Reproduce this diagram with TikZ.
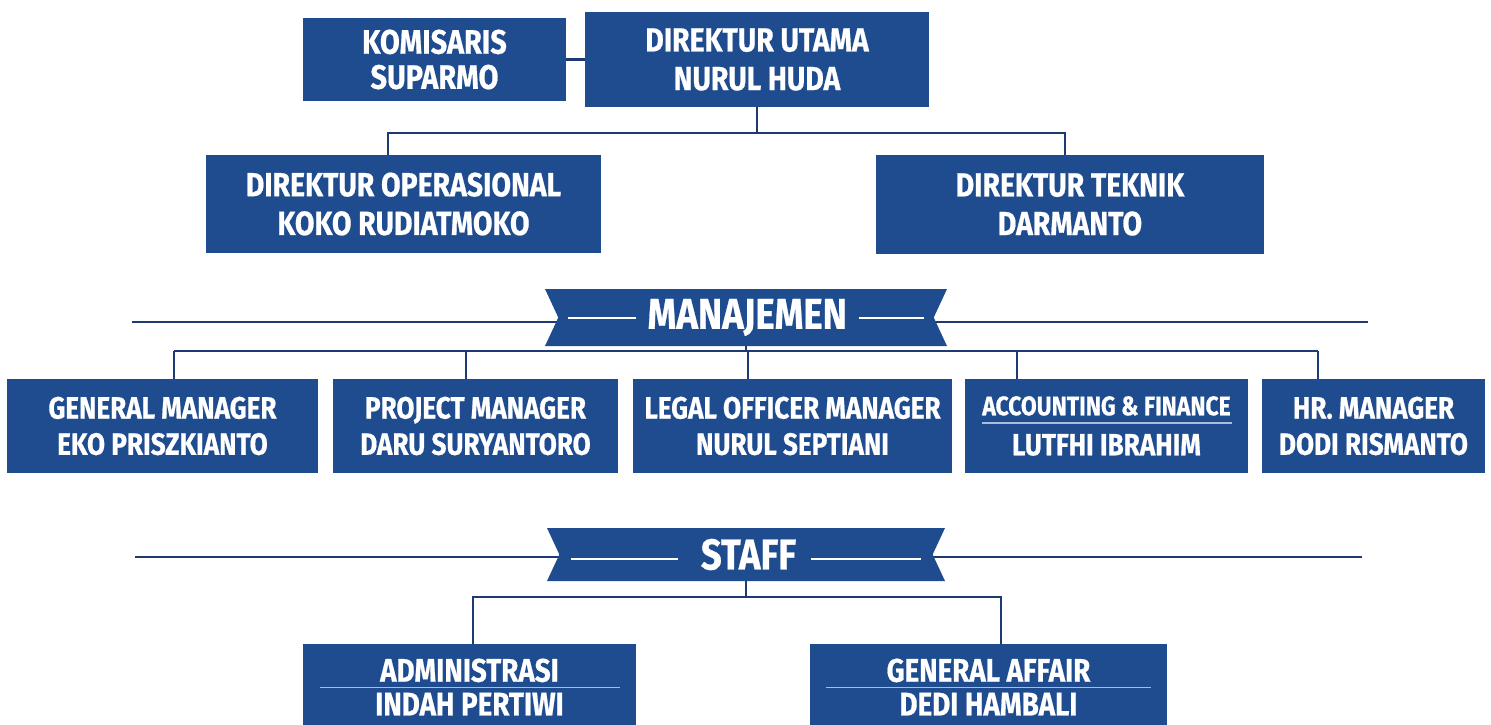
\documentclass[tikz,border=0pt]{standalone}
\usepackage{fontspec}
\newfontfamily\orgfont[FakeStretch=0.85, BoldFeatures={FakeBold=0.6}]{Fira Sans}
\usetikzlibrary{shapes.symbols}

\definecolor{boxblue}{HTML}{1E4C8F}
\definecolor{linenavy}{HTML}{1D3A73}
\definecolor{sepblue}{HTML}{A9BCDB}

% thin light rule between title and name
\newcommand{\sepline}[3]{\\[#2]{\color{sepblue}\rule{#1}{0.8pt}}\\[#3]}

\begin{document}
\begin{tikzpicture}[
        scale=1,
        box/.style={fill=boxblue, text=white, align=center, inner sep=0pt},
        head/.style={box, font=\orgfont\bfseries\fontsize{19}{22}\selectfont},
        mgr/.style={box, minimum height=1.88cm, font=\orgfont\bfseries\fontsize{17.5}{20.6}\selectfont},
        staffbox/.style={box, minimum height=1.72cm, font=\orgfont\bfseries\fontsize{18.6}{21.5}\selectfont},
        ribbon/.style={signal, signal from=west and east, signal to=nowhere, signal pointer angle=130,
          fill=boxblue, text=white, inner sep=0pt, font=\orgfont\bfseries\fontsize{24.5}{27}\selectfont},
        link/.style={draw=linenavy, line width=1.5pt}]

      \path[use as bounding box, clip] (0,0) rectangle (29.82,14.48);

      % directors
      \node[head, minimum width=5.26cm, minimum height=1.66cm, font=\orgfont\bfseries\fontsize{19.3}{20}\selectfont] (kom) at (8.69,13.29) {KOMISARIS\\SUPARMO};
      \node[head, minimum width=6.88cm, minimum height=1.90cm] (dir) at (15.14,13.29) {DIREKTUR UTAMA\\NURUL HUDA};
      \node[head, minimum width=7.90cm, minimum height=1.96cm] (ops) at (8.07,10.40) {DIREKTUR OPERASIONAL\\KOKO RUDIATMOKO};
      \node[head, minimum width=7.76cm, minimum height=1.98cm] (tek) at (21.40,10.39) {DIREKTUR TEKNIK\\DARMANTO};

      % rules behind the banners
      \coordinate (manL) at (2.64,8.04);
      \coordinate (manR) at (27.36,8.04);
      \coordinate (stfL) at (2.70,3.34);
      \coordinate (stfR) at (27.24,3.34);
      \draw[link] (manL) -- (manR);
      \draw[link] (stfL) -- (stfR);

      \node[ribbon, minimum width=8.04cm, minimum height=1.14cm] (man) at (14.92,8.13)
        {\rule[0.22em]{1.35cm}{1.1pt}\hspace{0.24cm}MANAJEMEN\hspace{0.24cm}\rule[0.22em]{1.3cm}{1.1pt}};
      \node[ribbon, minimum width=7.96cm, minimum height=1.06cm] (stf) at (14.92,3.39)
        {\rule[0.22em]{2.15cm}{1.1pt}\hspace{0.45cm}STAFF\hspace{0.3cm}\rule[0.22em]{2.2cm}{1.1pt}};

      % managers
      \node[mgr, minimum width=6.22cm] (gm) at (3.25,5.96) {GENERAL MANAGER\\EKO PRISZKIANTO};
      \node[mgr, minimum width=5.70cm] (pm) at (9.51,5.96) {PROJECT MANAGER\\DARU SURYANTORO};
      \node[mgr, minimum width=6.38cm] (legal) at (15.85,5.96) {LEGAL OFFICER MANAGER\\NURUL SEPTIANI};
      \node[mgr, minimum width=5.66cm] (acc) at (22.13,5.96)
        {{\fontsize{15.3}{20.6}\selectfont ACCOUNTING \& FINANCE}\sepline{5cm}{-15.9pt}{-2.5pt}LUTFHI IBRAHIM};
      \node[mgr, minimum width=4.46cm] (hr) at (27.47,5.96) {HR. MANAGER\\DODI RISMANTO};

      % staff
      \node[staffbox, minimum width=6.66cm] (adm) at (9.39,0.74) {ADMINISTRASI\sepline{6cm}{-17.8pt}{-6pt}INDAH PERTIWI};
      \node[staffbox, minimum width=7.14cm] (ga) at (19.77,0.74) {GENERAL AFFAIR\sepline{6.5cm}{-17.8pt}{-6pt}DEDI HAMBALI};

      \coordinate (dbus) at (15.14,11.82);
      \draw[link] (kom) -- (dir);
      \draw[link] (dir.south) -- (dbus);
      \draw[link] ([xshift=-0.31cm]ops.north) |- (dbus) -| ([xshift=-0.1cm]tek.north);

      \coordinate (mbus) at (14.92,7.46);
      \draw[link] (man.south) -- (mbus);
      \draw[link] ([xshift=0.23cm]gm.north |- mbus) -- ([xshift=-1.11cm]hr.north |- mbus);
      \foreach \n/\dx in {gm/0.23, pm/-0.19, legal/-0.89, acc/-1.79, hr/-1.11}
        \draw[link] ([xshift=\dx cm]\n.north) -- ([xshift=\dx cm]\n.north |- mbus);

      \coordinate (sbus) at (14.92,2.54);
      \draw[link] (stf.south) -- (sbus);
      \draw[link] ([xshift=0.07cm]adm.north) |- (sbus) -| ([xshift=0.25cm]ga.north);

    \end{tikzpicture}
\end{document}
